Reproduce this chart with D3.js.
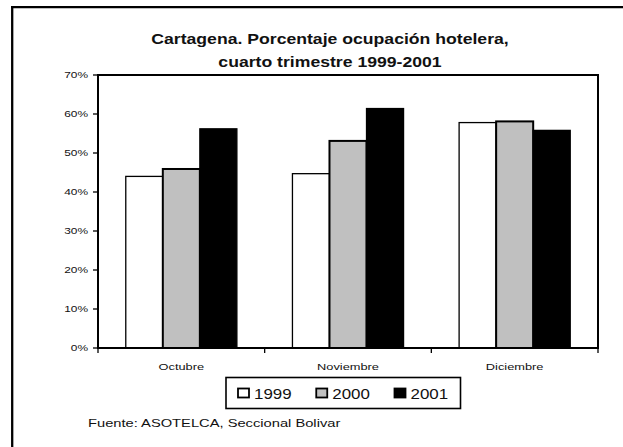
<!DOCTYPE html>
<html>
<head>
<meta charset="utf-8">
<script src="https://cdn.jsdelivr.net/npm/d3@7/dist/d3.min.js"></script>
<style>
  html, body { margin: 0; padding: 0; background: #ffffff; }
  svg { display: block; }
  text { font-family: "Liberation Sans", Arial, sans-serif; fill: #111; }
</style>
</head>
<body>
<script>
// ---- data ----
const categories = ["Octubre", "Noviembre", "Diciembre"];
const series = ["1999", "2000", "2001"];
const values1999 = [0.440, 0.447, 0.578];
const values2000 = [0.459, 0.531, 0.581];
const values2001 = [0.562, 0.614, 0.558];
const yTicks = [0, 0.1, 0.2, 0.3, 0.4, 0.5, 0.6, 0.7];
const titleLines = ["Cartagena. Porcentaje ocupación hotelera,", "cuarto trimestre 1999-2001"];
const sourceText = "Fuente: ASOTELCA, Seccional Bolivar";
const seriesColors = ["#ffffff", "#c0c0c0", "#000000"];

const seriesValues = [values1999, values2000, values2001];
const rows = categories.map((c, i) => ({
  cat: c,
  vals: series.map((s, j) => ({ s, v: seriesValues[j][i], color: seriesColors[j] }))
}));

const W = 623, H = 447;
const plot = { left: 98, right: 598, top: 75, bottom: 348 };

const svg = d3.select("body").append("svg").attr("width", W).attr("height", H);

// outer frame (only left and top visible)
svg.append("line").attr("x1", 12.2).attr("x2", 12.2).attr("y1", 6).attr("y2", H + 5)
  .attr("stroke", "#000").attr("stroke-width", 2.3);
svg.append("line").attr("x1", 11).attr("x2", W + 5).attr("y1", 7.2).attr("y2", 7.2)
  .attr("stroke", "#000").attr("stroke-width", 2.3);

// helper for horizontally stretched text
function stext(g, x, y, str, size, sx, anchor, weight) {
  return g.append("text")
    .attr("transform", `translate(${x},${y}) scale(${sx},1)`)
    .attr("text-anchor", anchor)
    .style("font-size", size + "px")
    .style("font-weight", weight || "normal")
    .text(str);
}

// title
stext(svg, 330, 44, titleLines[0], 14, 1.26, "middle", "bold");
stext(svg, 330, 66.5, titleLines[1], 14, 1.26, "middle", "bold");

// scales
const x0 = d3.scaleBand().domain(categories).range([plot.left, plot.right]).paddingInner(0).paddingOuter(0);
const x1 = d3.scaleBand().domain(series).range([0, x0.bandwidth()]).paddingInner(0).paddingOuter(0.75);
const y = d3.scaleLinear().domain([0, 0.7]).range([plot.bottom, plot.top]);

// bars
const groups = svg.append("g").selectAll("g").data(rows).join("g")
  .attr("transform", d => `translate(${x0(d.cat)},0)`);
groups.selectAll("rect").data(d => d.vals).join("rect")
  .attr("x", d => x1(d.s))
  .attr("y", d => y(d.v))
  .attr("width", x1.bandwidth())
  .attr("height", d => y(0) - y(d.v))
  .attr("fill", d => d.color)
  .attr("stroke", "#000")
  .attr("stroke-width", d => d.s === "2000" ? 2 : 1.3);

// plot frame
svg.append("rect")
  .attr("x", plot.left).attr("y", plot.top)
  .attr("width", plot.right - plot.left).attr("height", plot.bottom - plot.top)
  .attr("fill", "none").attr("stroke", "#000").attr("stroke-width", 2);

// y axis ticks + labels
const yAxis = svg.append("g");
yAxis.selectAll("line").data(yTicks).join("line")
  .attr("x1", plot.left - 5).attr("x2", plot.left)
  .attr("y1", d => y(d)).attr("y2", d => y(d))
  .attr("stroke", "#000").attr("stroke-width", 1.3);
yTicks.forEach(t => {
  stext(yAxis, 88, y(t) + 3.2, d3.format(".0%")(t), 8.5, 1.4, "end");
});

// x axis ticks at band boundaries
const bounds = categories.map(c => x0(c)).concat([plot.right]);
svg.append("g").selectAll("line").data(bounds).join("line")
  .attr("x1", d => d).attr("x2", d => d)
  .attr("y1", plot.bottom).attr("y2", plot.bottom + 5)
  .attr("stroke", "#000").attr("stroke-width", 1.3);

// category labels
categories.forEach(c => {
  stext(svg, x0(c) + x0.bandwidth() / 2, 370, c, 9.5, 1.35, "middle");
});

// legend
const leg = svg.append("g");
leg.append("rect").attr("x", 226).attr("y", 377.5).attr("width", 234.5).attr("height", 31)
  .attr("fill", "#fff").attr("stroke", "#000").attr("stroke-width", 1.6);
const legX = d3.scalePoint().domain(series).range([238, 394.5]);
series.forEach((s, i) => {
  leg.append("rect").attr("x", legX(s)).attr("y", 388.5).attr("width", 11).attr("height", 9)
    .attr("fill", seriesColors[i]).attr("stroke", "#000").attr("stroke-width", 1.8);
  stext(leg, legX(s) + 16, 398.5, s, 14, 1.21, "start");
});

// source
stext(svg, 88, 426.5, sourceText, 10.5, 1.4, "start");
</script>
</body>
</html>
